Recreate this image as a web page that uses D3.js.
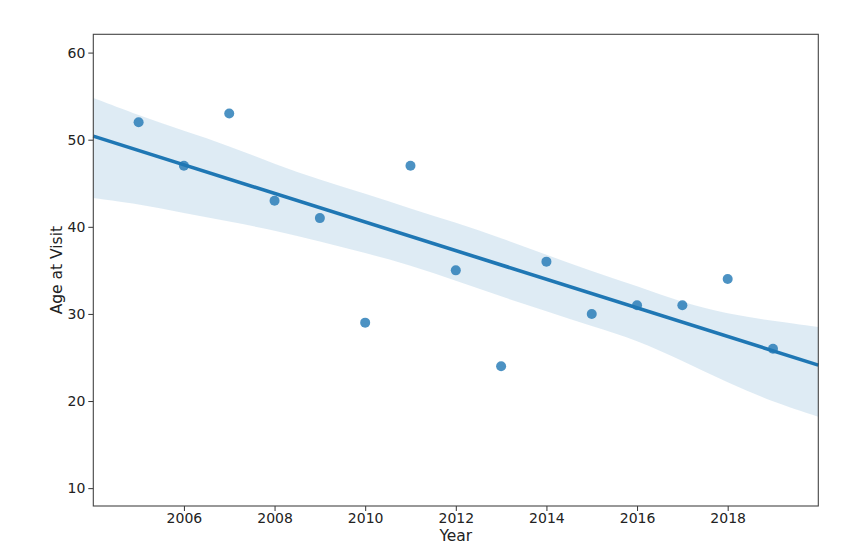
<!DOCTYPE html>
<html>
<head>
<meta charset="utf-8">
<script src="https://cdn.jsdelivr.net/npm/d3@7"></script>
<style>
  body { margin: 0; background: #fff; }
  .axis text { font-family: "DejaVu Sans", sans-serif; font-size: 14px; fill: #222; }
  .axis line { stroke: #333; }
</style>
</head>
<body>
<div class="holder"></div>
<script>
// data
var years = [2005, 2006, 2007, 2008, 2009, 2010, 2011, 2012, 2013, 2014, 2015, 2016, 2017, 2018, 2019]
var ages  = [52, 47, 53, 43, 41, 29, 47, 35, 24, 36, 30, 31, 31, 34, 26]

// confidence band (bootstrapped in the original), read at each year
var bandYears = [2004, 2005, 2006, 2007, 2008, 2009, 2010, 2011, 2012, 2013, 2014, 2015, 2016, 2017, 2018, 2019, 2020]
var bandUpper = [54.8, 52.8, 51.0, 49.3, 47.2, 45.4, 43.8, 42.1, 40.5, 38.7, 36.8, 34.9, 33.2, 31.3, 30.0, 29.2, 28.5]
var bandLower = [43.3, 42.6, 41.6, 40.6, 39.6, 38.3, 37.0, 35.6, 33.8, 32.0, 30.3, 28.6, 27.0, 24.6, 22.1, 19.9, 18.2]

var xTicks = [2006, 2008, 2010, 2012, 2014, 2016, 2018]
var yTicks = [10, 20, 30, 40, 50, 60]

var W = 866, H = 550
var margin = {top: 34.3, right: 47.7, bottom: 44, left: 93.3}
var width = W - margin.left - margin.right,
    height = H - margin.top - margin.bottom

var svg = d3.select('.holder')
  .append('svg')
  .attr('width', W)
  .attr('height', H)

var chart = svg.append('g')
  .attr('transform', 'translate(' + margin.left + ',' + margin.top + ')')

var xScale = d3.scaleLinear()
  .domain([2004, 2020])
  .range([0, width])

var yScale = d3.scaleLinear()
  .domain([7.95, 62.1])
  .range([height, 0])

var blue = '#1f77b4'

// band
var band = bandYears.map(function(d, i) { return {x: d, lo: bandLower[i], hi: bandUpper[i]} })
chart.append('path')
  .datum(band)
  .attr('fill', blue)
  .attr('fill-opacity', 0.15)
  .attr('d', d3.area()
    .curve(d3.curveBasis)
    .x(function(d) { return xScale(d.x) })
    .y0(function(d) { return yScale(d.lo) })
    .y1(function(d) { return yScale(d.hi) }))

// least squares fit of the points
var mx = d3.mean(years), my = d3.mean(ages)
var sxy = d3.sum(years, function(d, i) { return (d - mx) * (ages[i] - my) })
var sxx = d3.sum(years, function(d) { return (d - mx) * (d - mx) })
var slope = sxy / sxx
var fit = xScale.domain().map(function(x) { return {x: x, y: my + slope * (x - mx)} })

chart.append('path')
  .datum(fit)
  .attr('fill', 'none')
  .attr('stroke', blue)
  .attr('stroke-width', 3.6)
  .attr('d', d3.line()
    .x(function(d) { return xScale(d.x) })
    .y(function(d) { return yScale(d.y) }))

chart.selectAll('.dot')
  .data(years)
  .enter()
  .append('circle')
  .attr('class', 'dot')
  .attr('cx', function(d) { return xScale(d) })
  .attr('cy', function(d, i) { return yScale(ages[i]) })
  .attr('r', 5)
  .attr('fill', blue)
  .attr('fill-opacity', 0.8)

// axes
var xAxis = d3.axisBottom(xScale)
  .tickValues(xTicks)
  .tickSize(5)
  .tickPadding(2)
  .tickFormat(d3.format('d'))

chart.append('g')
  .attr('class', 'axis')
  .attr('transform', 'translate(0,' + height + ')')
  .call(xAxis)
  .call(function(g) { g.select('.domain').remove() })

var yAxis = d3.axisLeft(yScale)
  .tickValues(yTicks)
  .tickSize(5)
  .tickPadding(3)

chart.append('g')
  .attr('class', 'axis')
  .call(yAxis)
  .call(function(g) { g.select('.domain').remove() })

// frame
chart.append('rect')
  .attr('width', width)
  .attr('height', height)
  .attr('fill', 'none')
  .attr('stroke', '#444')
  .attr('stroke-width', 1.1)

svg.append('text')
  .attr('x', margin.left + width / 2)
  .attr('y', 541)
  .attr('text-anchor', 'middle')
  .style('font-family', '"DejaVu Sans", sans-serif')
  .style('font-size', '15.5px')
  .style('fill', '#222')
  .text('Year')

svg.append('text')
  .attr('transform', 'translate(62,' + (margin.top + height / 2) + ') rotate(-90)')
  .attr('text-anchor', 'middle')
  .style('font-family', '"DejaVu Sans", sans-serif')
  .style('font-size', '15.5px')
  .style('fill', '#222')
  .text('Age at Visit')
</script>
</body>
</html>
